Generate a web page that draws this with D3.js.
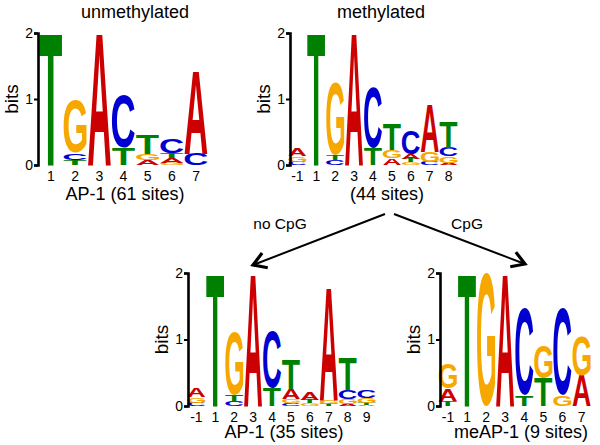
<!DOCTYPE html>
<html><head><meta charset="utf-8">
<script src="https://cdn.jsdelivr.net/npm/d3@7"></script>
<style>body{margin:0;background:#fff} svg{display:block}</style>
</head><body>
<svg id="chart" width="600" height="445"></svg>
<script>
// ---------- DATA (bits per base at each position) ----------
// Logo 1: unmethylated, AP-1 (61 sites)
const pos1 = ["1","2","3","4","5","6","7"];
const A1 = [0,    0,    2.0, 0,    0.08, 0.07, 1.26];
const C1 = [0,    0.10, 0,   0.80, 0,    0.22, 0.17];
const G1 = [0,    0.80, 0,   0,    0.09, 0.03, 0];
const T1 = [2.0,  0.08, 0,   0.26, 0.30, 0.075,0];

// Logo 2: methylated (44 sites)
const pos2 = ["-1","1","2","3","4","5","6","7","8"];
const A2 = [0.11, 0,   0,    2.0, 0,    0.10, 0.07, 0.72, 0.03];
const C2 = [0.05, 0,   0.07, 0,   0.92, 0,    0.36, 0.05, 0.13];
const G2 = [0.08, 0,   1.10, 0,   0,    0.12, 0.04, 0.15, 0.10];
const T2 = [0,    2.0, 0.08, 0,   0.26, 0.40, 0.05, 0,    0.40];

// Logo 3: no CpG, AP-1 (35 sites)
const pos3 = ["-1","1","2","3","4","5","6","7","8","9"];
const A3 = [0.14, 0,   0,    2.0, 0,    0.15, 0.12, 1.70, 0.03, 0.02];
const C3 = [0.05, 0,   0.08, 0,   0.86, 0.04, 0,    0,    0.13, 0.11];
const G3 = [0.08, 0,   0.95, 0,   0,    0.06, 0.04, 0.06, 0.08, 0.07];
const T3 = [0,    2.0, 0.09, 0,   0.28, 0.45, 0.05, 0.03, 0.48, 0.03];

// Logo 4: CpG, meAP-1 (9 sites)
const pos4 = ["-1","1","2","3","4","5","6","7"];
const A4 = [0.18, 0,   0,   2.0, 0,    0,    0,    0.46];
const C4 = [0,    0,   0,   0,   1.31, 0,    1.31, 0];
const G4 = [0.38, 0,   2.0, 0,   0,    0.50, 0.16, 0.60];
const T4 = [0.08, 2.0, 0,   0,   0.16, 0.42, 0,    0];

const yTicks = [0, 1, 2];
const titles = ["unmethylated", "methylated"];
const captions = ["AP-1 (61 sites)", "(44 sites)", "AP-1 (35 sites)", "meAP-1 (9 sites)"];
const arrowLabels = ["no CpG", "CpG"];

// ---------- STYLE ----------
const FONT = "'Liberation Sans', Arial, Helvetica, sans-serif";
const baseColor = {A: "#cc0000", C: "#0000d0", G: "#f7a800", T: "#008000"};
const bases = ["A","C","G","T"];

const svg = d3.select("#chart").style("font-family", FONT);

// glyph ink metrics for stretching letters to fit boxes
const cv = document.createElement("canvas").getContext("2d");
cv.font = "bold 100px 'Liberation Sans'";
const met = {};
bases.forEach(b => {
  const m = cv.measureText(b);
  met[b] = {l: m.actualBoundingBoxLeft, r: m.actualBoundingBoxRight,
            a: m.actualBoundingBoxAscent, d: m.actualBoundingBoxDescent};
});

function drawLogo(positions, series, L) {
  const g = svg.append("g");
  const x = d3.scaleBand().domain(positions).range([L.left, L.right])
              .paddingInner(0.05).paddingOuter(0.02);
  const y = d3.scaleLinear().domain([0, 2]).range([L.bottom, L.top]);

  positions.forEach((p, i) => {
    const stack = bases.map(b => ({b, h: series[b][i]}))
      .filter(d => d.h > 0).sort((a, c) => a.h - c.h);
    let cum = 0;
    stack.forEach(d => {
      const y1 = y(cum + d.h), y0 = y(cum);
      cum += d.h;
      const m = met[d.b];
      const w = m.l + m.r, hh = m.a + m.d;
      const sx = x.bandwidth() / w, sy = (y0 - y1) / hh;
      g.append("text")
        .attr("font-family", FONT).attr("font-weight", "bold").attr("font-size", 100)
        .attr("fill", baseColor[d.b])
        .attr("transform", `translate(${x(p)},${y1}) scale(${sx},${sy}) translate(${m.l},${m.a})`)
        .text(d.b);
    });
  });

  const ya = g.append("g").attr("transform", `translate(${L.axisX},0)`)
    .call(d3.axisLeft(y).tickValues(yTicks).tickFormat(d3.format("d"))
      .tickSize(4).tickPadding(1));
  ya.select(".domain").attr("stroke-width", 2.6);
  ya.selectAll(".tick line").attr("stroke-width", 2);
  ya.selectAll("text").attr("font-size", 14).attr("font-family", FONT).attr("fill", "#000");

  const xa = g.append("g").attr("transform", `translate(0,${L.bottom})`)
    .call(d3.axisBottom(x).tickSize(0).tickPadding(6));
  xa.select(".domain").remove();
  xa.selectAll("text").attr("font-size", 14).attr("font-family", FONT).attr("fill", "#000");

  g.append("text").attr("transform", `translate(${L.axisX - 20},${(L.top + L.bottom) / 2}) rotate(-90)`)
    .attr("text-anchor", "middle").attr("font-size", 19).text("bits");
  return {x, y};
}

drawLogo(pos1, {A: A1, C: C1, G: G1, T: T1}, {left: 39, right: 208, top: 33, bottom: 165, axisX: 38});
drawLogo(pos2, {A: A2, C: C2, G: G2, T: T2}, {left: 288, right: 458, top: 33, bottom: 165, axisX: 290});
drawLogo(pos3, {A: A3, C: C3, G: G3, T: T3}, {left: 187, right: 376, top: 273, bottom: 406, axisX: 188});
drawLogo(pos4, {A: A4, C: C4, G: G4, T: T4}, {left: 438.5, right: 591, top: 273, bottom: 406, axisX: 440});

// titles and captions
const titleXY = [[135, 18], [381, 18]];
titles.forEach((t, i) => svg.append("text").attr("x", titleXY[i][0]).attr("y", titleXY[i][1])
  .attr("text-anchor", "middle").attr("font-size", 18).text(t));
const capXY = [[125, 200], [387, 200], [284, 438], [521, 438]];
captions.forEach((t, i) => svg.append("text").attr("x", capXY[i][0]).attr("y", capXY[i][1])
  .attr("text-anchor", "middle").attr("font-size", 18).text(t));

// arrows
const arrows = [[[385, 214], [253, 265]], [[394, 214], [525, 264]]];
arrows.forEach(([s, e]) => {
  svg.append("line").attr("x1", s[0]).attr("y1", s[1]).attr("x2", e[0]).attr("y2", e[1])
    .attr("stroke", "#000").attr("stroke-width", 2);
  const ang = Math.atan2(s[1] - e[1], s[0] - e[0]);
  const len = 15, spread = 0.55;
  const p1 = [e[0] + len * Math.cos(ang + spread), e[1] + len * Math.sin(ang + spread)];
  const p2 = [e[0] + len * Math.cos(ang - spread), e[1] + len * Math.sin(ang - spread)];
  svg.append("path").attr("d", `M${p1}L${e}L${p2}`).attr("fill", "none")
    .attr("stroke", "#000").attr("stroke-width", 3.2).attr("stroke-linejoin", "miter");
});
const labXY = [[280, 229], [467, 229]];
arrowLabels.forEach((t, i) => svg.append("text").attr("x", labXY[i][0]).attr("y", labXY[i][1])
  .attr("text-anchor", "middle").attr("font-size", 15.5).text(t));
</script>
</body></html>
